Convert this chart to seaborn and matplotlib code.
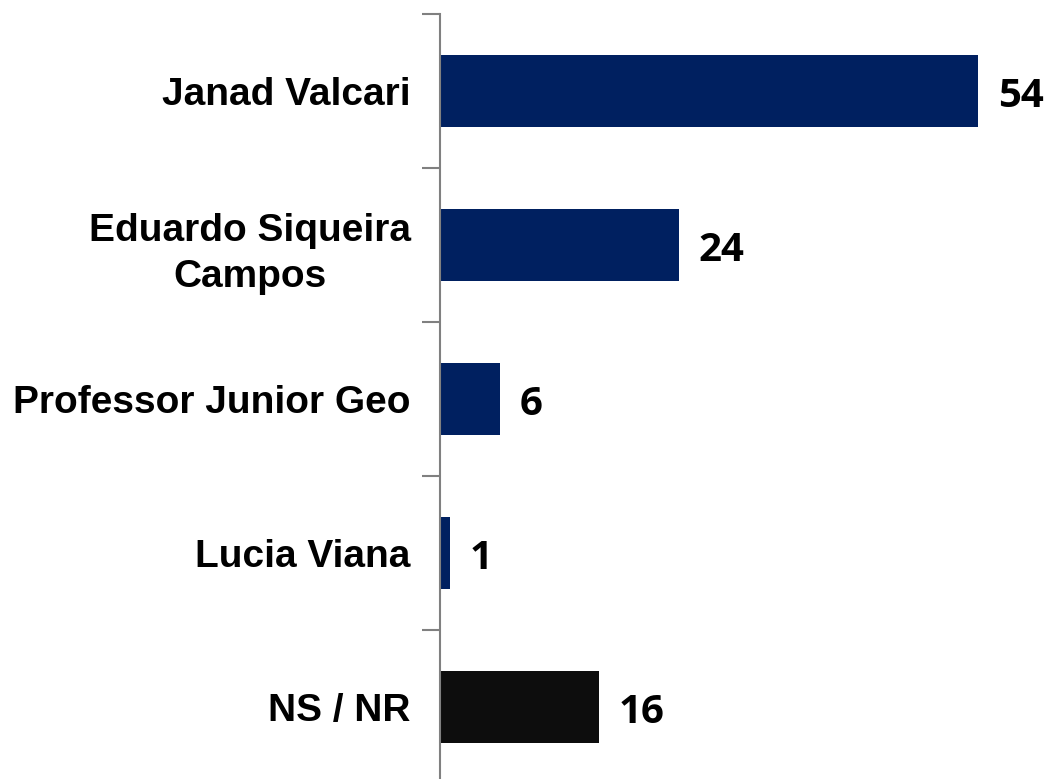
import matplotlib
matplotlib.use("Agg")
import matplotlib.pyplot as plt
import seaborn as sns
import pandas as pd

candidatos = ["Janad Valcari", "Eduardo Siqueira\nCampos", "Professor Junior Geo",
              "Lucia Viana", "NS / NR"]
valores = [54, 24, 6, 1, 16]
cores = ["#002060", "#002060", "#002060", "#002060", "#0d0d0d"]

df = pd.DataFrame({"candidato": candidatos, "valor": valores})

sns.set_style("white")

fig = plt.figure(figsize=(10.49, 7.79), dpi=100)
ax = fig.add_axes([440 / 1049, -5 / 779, 598 / 1049, 770 / 779])

sns.barplot(data=df, x="valor", y="candidato", hue="candidato", palette=cores,
            legend=False, width=0.47, saturation=1, linewidth=0, ax=ax)

ax.set_xlim(0, 60)
ax.set_ylim(4.5, -0.5)

# rótulos de valor
for i, v in enumerate(valores):
    ax.annotate(str(v), xy=(v, i), xytext=(14, -3.6), textcoords="offset points",
                va="center", ha="left", fontsize=29, fontweight="bold",
                family="Open Sans", color="black")

ax.set_yticks([i + 0.5 for i in range(-1, 5)], minor=False)
ax.set_yticklabels([])
ax.set_yticks(range(5), minor=True)
ax.set_yticklabels(candidatos, minor=True, fontsize=28, fontweight="bold",
                   family="Liberation Sans", linespacing=1.35, color="black",
                   multialignment="center")
ax.tick_params(axis="y", which="major", length=13, width=1.5, color="#808080", left=True)
ax.tick_params(axis="y", which="minor", length=0, pad=21)

ax.set_xticks([])
ax.set_xlabel("")
ax.set_ylabel("")
for s in ["top", "right", "bottom"]:
    ax.spines[s].set_visible(False)
ax.spines["left"].set_color("#808080")
ax.spines["left"].set_linewidth(1.5)

fig.savefig("out.png", dpi=100)
